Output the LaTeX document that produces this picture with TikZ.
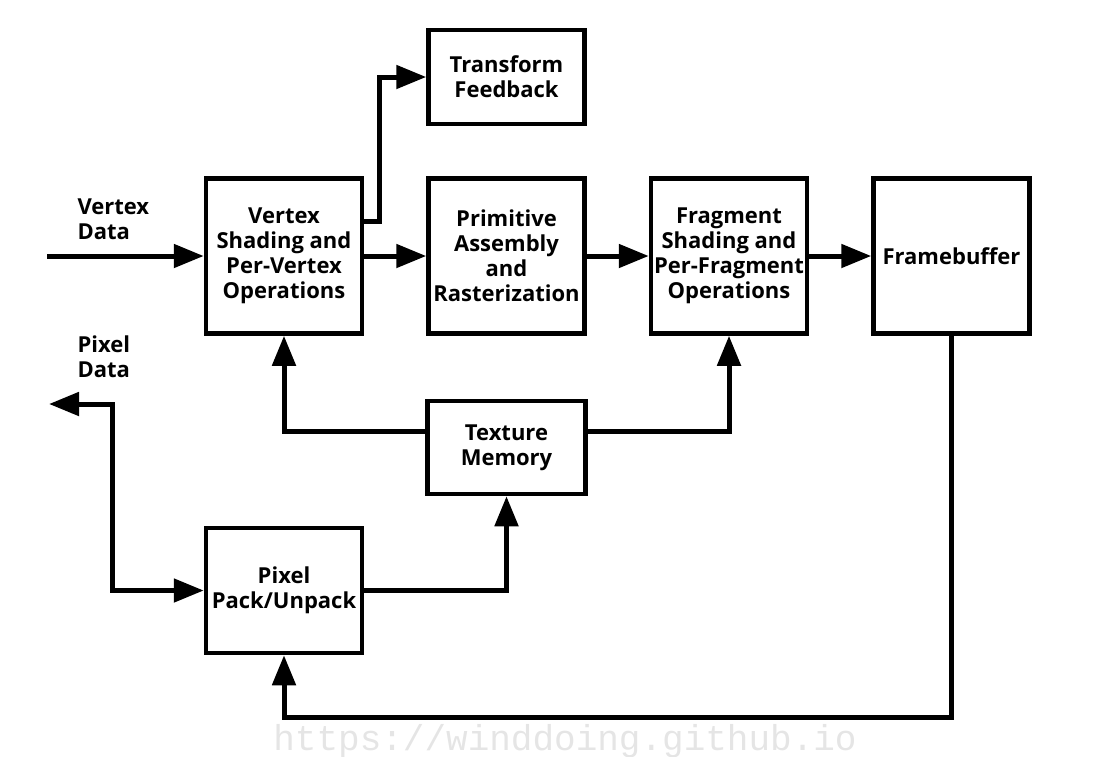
\documentclass[tikz,border=0pt]{standalone}
\usepackage{fontspec}
\setmainfont{Open Sans}
\setmonofont{Liberation Mono}
\usetikzlibrary{arrows.meta,positioning}

\begin{document}
\begin{tikzpicture}[
  x=1pt, y=-1pt,
  node distance=62pt and 62pt,
  stage/.style={draw, line width=4.5pt, font=\fontsize{22}{25}\selectfont\bfseries, align=center, minimum width=156pt, minimum height=155pt, inner sep=2pt},
  tag/.style={font=\fontsize{22}{25}\selectfont\bfseries, align=left, inner sep=0pt, anchor=west},
  line width=5pt, ->, >={Triangle[length=30pt,width=23pt]}
]
\useasboundingbox (0,0) rectangle (1097,756);

% Pipeline stages
\node[stage] (vs) at (284,256) {Vertex\\Shading and\\Per-Vertex\\Operations};
\node[stage, right=of vs] (pa) {Primitive\\Assembly\\and\\Rasterization};
\node[stage, right=of pa] (fs) {Fragment\\Shading and\\Per-Fragment\\Operations};
\node[stage, right=of fs] (fb) {Framebuffer};

% Side stages
\node[stage, minimum height=94pt, above=50pt of pa] (tf) {Transform\\Feedback};
\node[stage, minimum height=93pt, minimum width=158pt, below=63pt of pa] (tm) {Texture\\Memory};
\node[stage, minimum height=125pt, below=190pt of vs] (pp) {Pixel\\Pack/Unpack};

% Inputs
\node[tag] (vdata) at (75,219) {Vertex\\Data};
\node[tag] (pdata) at (75,357) {Pixel\\Data};
\coordinate (vin) at (47,256);
\coordinate (pout) at (49,404);
\coordinate (pbend) at (112,404);

% Watermark
\node[font=\ttfamily\fontsize{36}{36}\selectfont, text=gray!20, anchor=base] (mark) at (565,750) {https://winddoing.github.io};

% Connections
\draw (vin) -- (vs);
\draw (vs) -- (pa);
\draw ([yshift=35pt]vs.east) -- ++(15,0) |- (tf);
\draw (pa) -- (fs);
\draw (fs) -- (fb);
\draw ([yshift=16pt]tm.west) -| (vs.south);
\draw ([yshift=16pt]tm.east) -| (fs.south);
\draw (pp.east) -| (tm.south);
\draw[<->] (pout) -- (pbend) |- (pp.west);
\draw (fb.south) -- ++(0,382) -| (pp.south);
\end{tikzpicture}
\end{document}
